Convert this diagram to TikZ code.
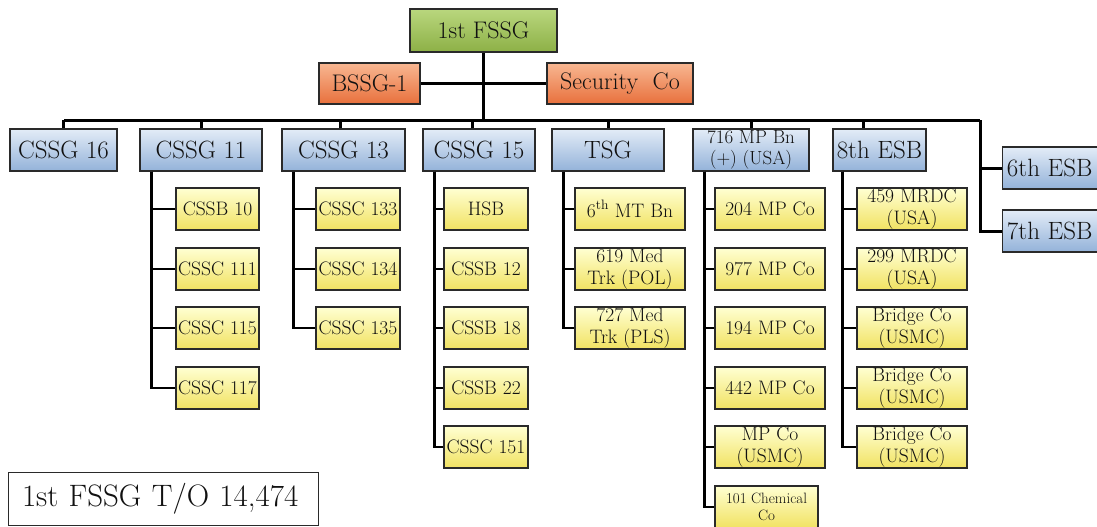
\documentclass[tikz,border=0pt]{standalone}
\definecolor{gtop}{HTML}{B9D77E}
\definecolor{gbot}{HTML}{8DB046}
\definecolor{otop}{HTML}{F8B792}
\definecolor{obot}{HTML}{E8703C}
\definecolor{btop}{HTML}{E3ECF7}
\definecolor{bbot}{HTML}{93B2D9}
\definecolor{ytop}{HTML}{FFFFD2}
\definecolor{ybot}{HTML}{F1E262}
\definecolor{boxline}{HTML}{2A2A2A}
\definecolor{txt}{HTML}{111111}
\tikzset{
  box/.style={draw=boxline, line width=1.4pt, inner sep=0pt, align=center, text=txt},
  grn/.style={box, top color=gtop, bottom color=gbot, minimum height=43pt, font=\fontsize{24}{27}\selectfont},
  org/.style={box, top color=otop, bottom color=obot, minimum height=41pt, font=\fontsize{24}{27}\selectfont},
  blu/.style={box, top color=btop, bottom color=bbot, minimum height=42pt, font=\fontsize{25}{28}\selectfont},
  bluS/.style={blu, font=\fontsize{19}{21}\selectfont},
  yel/.style={box, top color=ytop, bottom color=ybot, minimum height=42pt, font=\fontsize{19.5}{22}\selectfont},
  yelS/.style={yel, font=\fontsize{15}{17}\selectfont},
  trunk/.style={draw=black, line width=3pt},
  link/.style={draw=black, line width=2.6pt},
  total/.style={draw=boxline, line width=1pt, fill=white, inner sep=0pt, minimum width=310pt, minimum height=53pt, text width=282pt, align=left, font=\fontsize{31}{34}\selectfont, text=txt}
}
\begin{document}
\begin{tikzpicture}[x=1pt,y=-1pt]
\useasboundingbox (0,0) rectangle (1097,527);
% top level
\node[grn, minimum width=147pt] (fssg) at (483.5,30.5) {1st FSSG};
\node[org, minimum width=101pt] (bssg) at (369.5,83.5) {BSSG-1};
\node[org, minimum width=146pt] (sec) at (620,83.5) {Security\ \ Co};
% bus
\coordinate (busL) at (64,120);
\coordinate (busR) at (980,120);
% second level
\node[blu, minimum width=107pt] (c16) at (63.5,150) {CSSG 16};
\node[blu, minimum width=122pt] (c11) at (201,150) {CSSG 11};
\node[blu, minimum width=123pt] (c13) at (343.5,150) {CSSG 13};
\node[blu, minimum width=112pt] (c15) at (479,150) {CSSG 15};
\node[blu, minimum width=112pt] (tsg) at (608,150) {TSG};
\node[bluS, minimum width=116pt] (mp) at (751,150) {716 MP Bn\\(+) (USA)};
\node[blu, minimum width=93pt] (e8) at (879.5,150) {8th ESB};
\node[blu, minimum width=110pt, anchor=west] (e6) at (1002,168) {\hspace*{-16pt}6th ESB};
\node[blu, minimum width=110pt, anchor=west] (e7) at (1002,231) {\hspace*{-16pt}7th ESB};
% CSSG 11 column
\node[yel, minimum width=83pt] (a1) at (217.5,209) {CSSB 10};
\node[yel, minimum width=83pt] (a2) at (217.5,269) {CSSC 111};
\node[yel, minimum width=83pt] (a3) at (217.5,328) {CSSC 115};
\node[yel, minimum width=83pt] (a4) at (217.5,388) {CSSC 117};
% CSSG 13 column
\node[yel, minimum width=84pt] (b1) at (358,209) {CSSC 133};
\node[yel, minimum width=84pt] (b2) at (358,269) {CSSC 134};
\node[yel, minimum width=84pt] (b3) at (358,328) {CSSC 135};
% CSSG 15 column
\node[yel, minimum width=84pt] (d1) at (486,209) {HSB};
\node[yel, minimum width=84pt] (d2) at (486,269) {CSSB 12};
\node[yel, minimum width=84pt] (d3) at (486,328) {CSSB 18};
\node[yel, minimum width=84pt] (d4) at (486,388) {CSSB 22};
\node[yel, minimum width=84pt] (d5) at (486,447) {CSSC 151};
% TSG column
\node[yel, minimum width=110pt] (t1) at (630,209) {6\textsuperscript{th} MT Bn};
\node[yel, minimum width=110pt] (t2) at (630,269) {619 Med\\Trk (POL)};
\node[yel, minimum width=110pt] (t3) at (630,328) {727 Med\\Trk (PLS)};
% 716 MP column
\node[yel, minimum width=110pt] (m1) at (770,209) {204 MP Co};
\node[yel, minimum width=110pt] (m2) at (770,269) {977 MP Co};
\node[yel, minimum width=110pt] (m3) at (770,328) {194 MP Co};
\node[yel, minimum width=110pt] (m4) at (770,388) {442 MP Co};
\node[yel, minimum width=110pt] (m5) at (770,447) {MP Co\\(USMC)};
\node[yelS, minimum width=103pt] (m6) at (766.5,507) {101 Chemical\\Co};
% 8th ESB column
\node[yel, minimum width=110pt] (g1) at (912,209) {459 MRDC\\(USA)};
\node[yel, minimum width=110pt] (g2) at (912,269) {299 MRDC\\(USA)};
\node[yel, minimum width=110pt] (g3) at (912,328) {Bridge Co\\(USMC)};
\node[yel, minimum width=110pt] (g4) at (912,388) {Bridge Co\\(USMC)};
\node[yel, minimum width=110pt] (g5) at (912,447) {Bridge Co\\(USMC)};
% total box
\node[total] (tot) at (163,498.5) {1st FSSG T/O 14,474};
% connectors
\draw[trunk] (fssg.south) -- (fssg.south |- busL);
\draw[trunk] (bssg.east) -- (sec.west);
\draw[trunk] (busL) -- (busR);
\draw[trunk] (c16.north) -- (c16.north |- busL);
\draw[trunk] (c11.north) -- (c11.north |- busL);
\draw[trunk] ([xshift=-3pt]c13.north) -- ([xshift=-3pt]c13.north |- busL);
\draw[trunk] ([xshift=-7pt]c15.north) -- ([xshift=-7pt]c15.north |- busL);
\draw[trunk] (tsg.north) -- (tsg.north |- busL);
\draw[trunk] (mp.north) -- (mp.north |- busL);
\draw[trunk] ([xshift=-16pt]e8.north) -- ([xshift=-16pt]e8.north |- busL);
\draw[trunk] (busR) |- (e7.west);
\draw[trunk] (busR |- e6.west) -- (e6.west);
\foreach \p/\c in {c11/a1,c11/a2,c11/a3,c11/a4,
                   c13/b1,c13/b2,c13/b3,
                   c15/d1,c15/d2,c15/d3,c15/d4,c15/d5,
                   tsg/t1,tsg/t2,tsg/t3,
                   mp/m1,mp/m2,mp/m3,mp/m4,mp/m5,mp/m6}
  \draw[link] ([xshift=12pt]\p.south west) |- (\c.west);
\foreach \c in {g1,g2,g3,g4,g5}
  \draw[link] ([xshift=10pt]e8.south west) |- (\c.west);
\end{tikzpicture}
\end{document}
